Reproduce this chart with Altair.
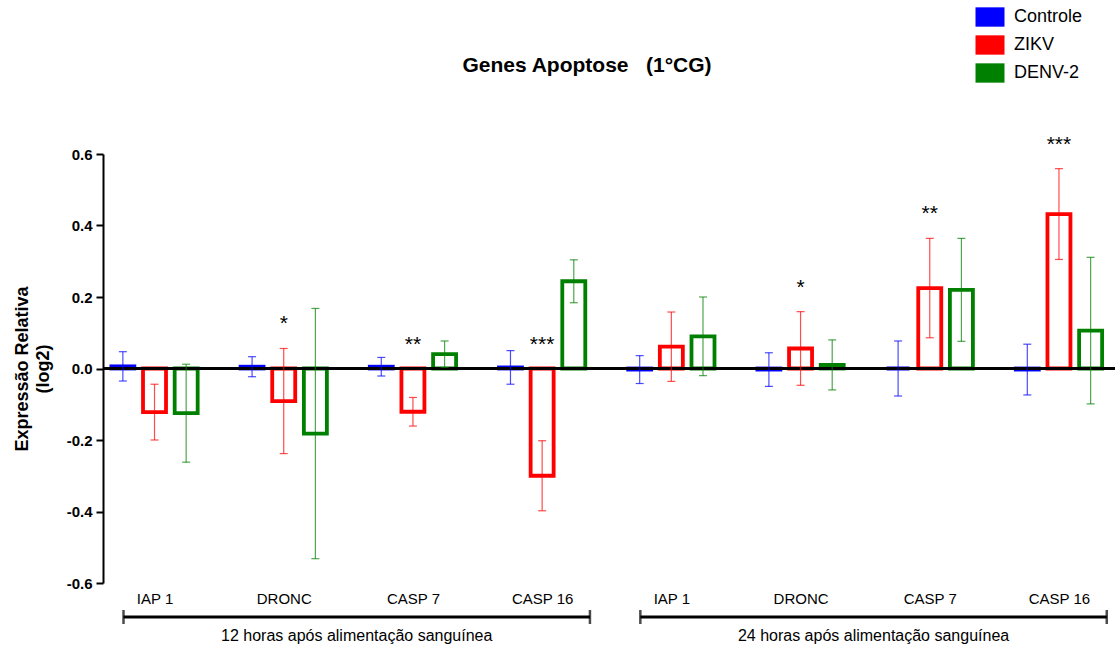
import json
import altair as alt
import pandas as pd

# ---------------- data ----------------
genes = ["IAP 1", "DRONC", "CASP 7", "CASP 16", "IAP 1", "DRONC", "CASP 7", "CASP 16"]
series_names = ["Controle", "ZIKV", "DENV-2"]
controle = [0.006, 0.005, 0.005, 0.003, -0.003, -0.003, 0.0, -0.003]
controle_err = [0.041, 0.028, 0.026, 0.047, 0.039, 0.047, 0.077, 0.071]
zikv = [-0.122, -0.091, -0.121, -0.300, 0.061, 0.056, 0.225, 0.432]
zikv_err = [0.078, 0.147, 0.040, 0.098, 0.097, 0.103, 0.139, 0.127]
denv = [-0.125, -0.182, 0.040, 0.244, 0.090, 0.010, 0.220, 0.106]
denv_err = [0.137, 0.350, 0.037, 0.060, 0.110, 0.070, 0.144, 0.205]
stars = ["", "*", "**", "***", "", "*", "**", "***"]  # above ZIKV bars

group_labels = ["12 horas após alimentação sanguínea", "24 horas após alimentação sanguínea"]
group_first = [0, 4]
group_last = [3, 7]

colors = ["#0000ff", "#ff0000", "#008000"]
y_ticks = [-0.6, -0.4, -0.2, 0.0, 0.2, 0.4, 0.6]

# ---------------- tables ----------------
rows = []
values = [controle, zikv, denv]
errors = [controle_err, zikv_err, denv_err]
for i, g in enumerate(genes):
    for k, s in enumerate(series_names):
        v = values[k][i]
        e = errors[k][i]
        rows.append(dict(idx=i, gene=g, series=s, pos=i + (k - 1) * 0.245,
                         value=v, lo=v - e, hi=v + e,
                         star=stars[i] if s == "ZIKV" else ""))
df = pd.DataFrame(rows)

grp = pd.DataFrame(dict(label=group_labels, first=group_first, last=group_last))
grp["start"] = grp["first"] - 0.24
grp["end"] = grp["last"] + 0.37
grp["mid"] = (grp["start"] + grp["end"]) / 2

xscale = alt.Scale(domain=[-0.36, 7.395], nice=False, zero=False)
yscale = alt.Scale(domain=[-0.6, 0.6], nice=False)
# fill scale (carries the legend) and stroke scale (no legend) map the same colours;
# the stroke domain is listed in another order so the two legends are not merged
cscale_fill = alt.Scale(domain=series_names, range=colors)
stroke_order = [series_names[0], series_names[2], series_names[1]]
cscale_stroke = alt.Scale(domain=stroke_order, range=[colors[0], colors[2], colors[1]])

gene_js = json.dumps(genes)
xaxis = alt.Axis(values=list(range(len(genes))), labelExpr=f"{gene_js}[round(datum.value)]",
                 domain=False, ticks=False, grid=False, labelPadding=8, labelFontSize=15,
                 labelColor="black", labelFont="Liberation Sans", title=None,
                 labelFlush=False, labelOverlap=False)
yaxis = alt.Axis(values=y_ticks, grid=False, domainColor="black", domainWidth=2,
                 tickColor="black", tickWidth=2, tickSize=7, labelPadding=4,
                 labelFontSize=15, labelFontWeight="bold", labelColor="black",
                 labelExpr="datum.value < -0.001 ? '-' + format(-datum.value, '.1f') : format(abs(datum.value), '.1f')",
                 title=["Expressão Relativa", "(log2)"], titleFontSize=18, titleFontWeight="bold",
                 titleColor="black", titleAngle=-90, titleX=-90, titleY=214.5,
                 titleBaseline="top", titleAlign="center", titleLineHeight=21)

rect_path = "M-1.5,-1H1.5V1H-1.5Z"
legend_def = alt.Legend(
    title=None, orient="none", legendX=877, legendY=-147, symbolType=rect_path,
    symbolSize=374, symbolOpacity=1, symbolStrokeWidth=0, labelFontSize=18,
    labelColor="black", labelFont="Liberation Sans", labelOffset=14, rowPadding=8,
    padding=0)

base = alt.Chart(df)

bars = base.mark_bar(fill="white", strokeWidth=3.8, size=23).encode(
    x=alt.X("pos:Q", scale=xscale, axis=xaxis),
    y=alt.Y("value:Q", scale=yscale, axis=yaxis),
    y2=alt.datum(0),
    stroke=alt.Stroke("series:N", scale=cscale_stroke, legend=None),
)

zero = alt.Chart(df).mark_rule(color="black", strokeWidth=2.5).encode(y=alt.datum(0, scale=yscale))

err = base.mark_rule(strokeWidth=1.2, opacity=0.7).encode(
    x=alt.X("pos:Q", scale=xscale),
    y=alt.Y("lo:Q", scale=yscale),
    y2="hi:Q",
    stroke=alt.Stroke("series:N", scale=cscale_stroke, legend=None),
)

# caps carry the (filled) colour legend
caps = base.transform_fold(["lo", "hi"], as_=["end", "yv"]).mark_tick(
    orient="horizontal", size=8, thickness=1.2, opacity=0.7).encode(
    x=alt.X("pos:Q", scale=xscale),
    y=alt.Y("yv:Q", scale=yscale),
    fill=alt.Fill("series:N", scale=cscale_fill, legend=legend_def),
)

star_layer = base.transform_filter("datum.star != ''").transform_calculate(
    ys="max(datum.hi, 0)").mark_text(dy=-24, fontSize=21, color="black", baseline="middle").encode(
    x=alt.X("pos:Q", scale=xscale),
    y=alt.Y("ys:Q", scale=yscale),
    text="star:N",
)

gbase = alt.Chart(grp)
brackets = gbase.mark_rule(color="black", strokeWidth=3).encode(
    x=alt.X("start:Q", scale=xscale), x2="end:Q", y=alt.value(463))
bracket_caps = gbase.transform_fold(["start", "end"], as_=["which", "xv"]).mark_tick(
    orient="vertical", size=14, thickness=2.5, color="black").encode(
    x=alt.X("xv:Q", scale=xscale), y=alt.value(463))
group_text = gbase.mark_text(fontSize=16, color="black", baseline="middle").encode(
    x=alt.X("mid:Q", scale=xscale), y=alt.value(482), text="label:N")

title_text = "Genes Apoptose\u00a0\u00a0\u00a0(1°CG)"

chart = alt.layer(bars, zero, err, caps, star_layer, brackets, bracket_caps, group_text).properties(
    width=1012, height=429,
    autosize=alt.AutoSizeParams(type="none"),
    padding={"left": 103, "top": 154, "right": 0, "bottom": 65},
    title=alt.TitleParams(title_text, fontSize=21, fontWeight="bold", color="black",
                          anchor="middle", frame="group", offset=0, dy=69, dx=-22,
                          font="Liberation Sans"),
).configure(font="Liberation Sans").configure_view(strokeOpacity=0)

chart.save("out.html", embed_options={"renderer": "svg", "actions": False})
